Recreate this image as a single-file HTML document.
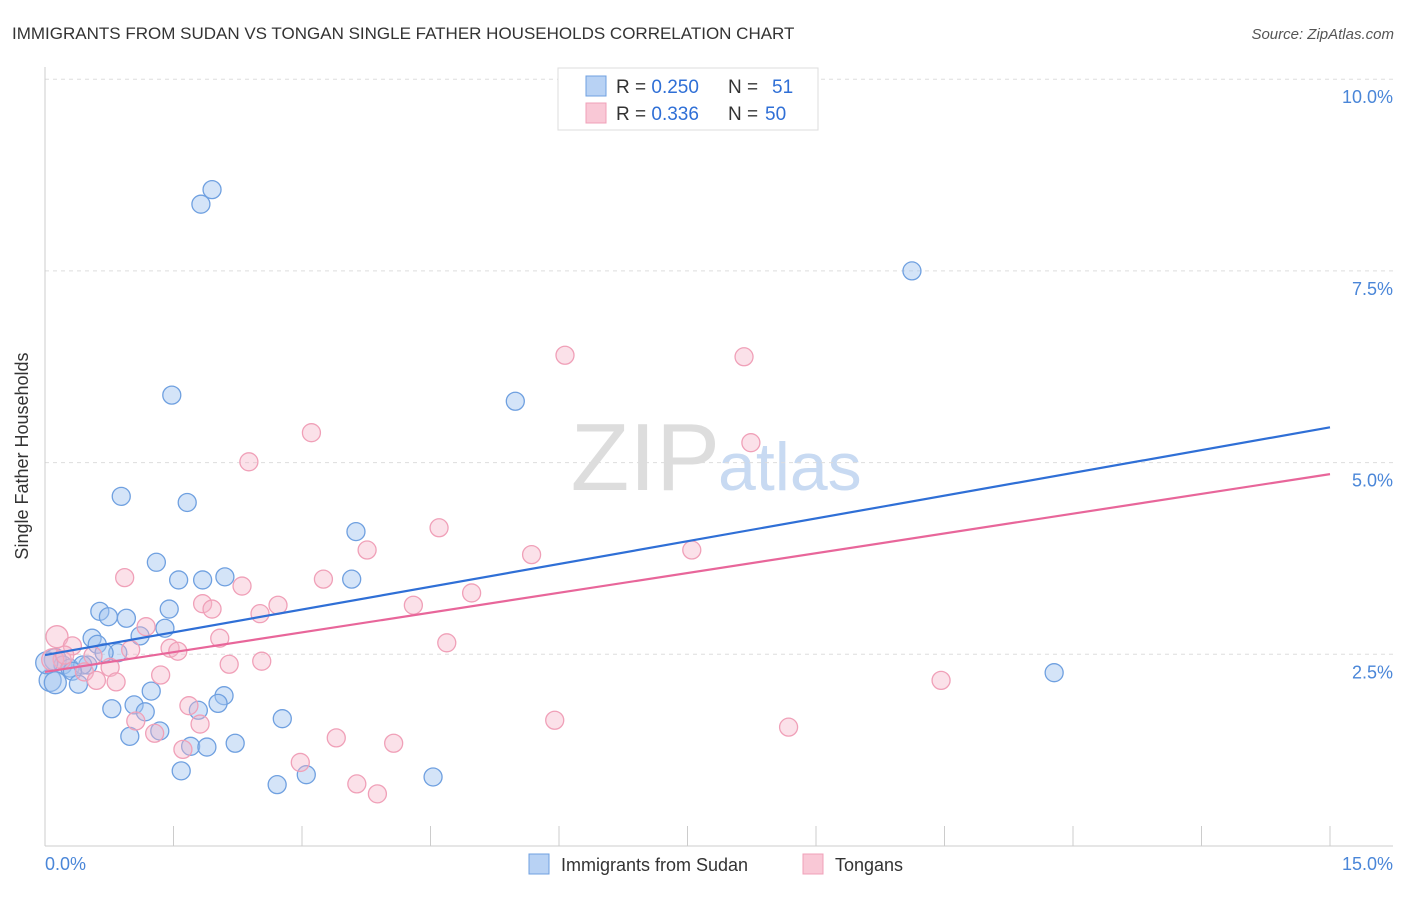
<!DOCTYPE html>
<html><head><meta charset="utf-8"><style>
body{margin:0;background:#fff;font-family:"Liberation Sans",sans-serif}
svg text{font-family:"Liberation Sans",sans-serif}
</style></head><body>
<svg id="c" width="1406" height="892" xmlns="http://www.w3.org/2000/svg">
<text x="12" y="39" font-size="17" fill="#333">IMMIGRANTS FROM SUDAN VS TONGAN SINGLE FATHER HOUSEHOLDS CORRELATION CHART</text>
<text x="1394" y="39" font-size="15" fill="#555" font-style="italic" text-anchor="end">Source: ZipAtlas.com</text>
<text x="720" y="490" font-size="96" fill="#ddd" font-family="Liberation Serif" text-anchor="end">ZIP</text>
<text x="718" y="490" font-size="68" fill="#c8daf2">atlas</text>
<g id="grid"></g>
<line x1="45" y1="67" x2="45" y2="846" stroke="#ccc"/>
<line x1="45" y1="846" x2="1393" y2="846" stroke="#ccc"/>
<text x="28" y="456" font-size="18" fill="#333" text-anchor="middle" transform="rotate(-90 28 456)">Single Father Households</text>
<text x="45" y="870" font-size="18" fill="#4a86d8">0.0%</text>
<text x="1393" y="870" font-size="18" fill="#4a86d8" text-anchor="end">15.0%</text>
<g id="pts"></g>
<g id="lines"></g>
<g>
<rect x="558" y="68" width="260" height="62" fill="#fff" stroke="#ddd"/>
<rect x="586" y="76" width="20" height="20" fill="#b8d2f4" stroke="#6fa0e0"/>
<rect x="586" y="103" width="20" height="20" fill="#f9c8d6" stroke="#f0a0b8"/>
<text x="616" y="93" font-size="19" fill="#333">R = <tspan fill="#2f6fd6">0.250</tspan><tspan x="728">N = </tspan><tspan x="772" fill="#2f6fd6">51</tspan></text>
<text x="616" y="120" font-size="19" fill="#333">R = <tspan fill="#2f6fd6">0.336</tspan><tspan x="728">N = </tspan><tspan x="765" fill="#2f6fd6">50</tspan></text>
</g>
<g>
<rect x="529" y="854" width="20" height="20" fill="#b8d2f4" stroke="#6fa0e0"/>
<text x="561" y="871" font-size="18" fill="#333">Immigrants from Sudan</text></g>
<g>
<rect x="803" y="854" width="20" height="20" fill="#f9c8d6" stroke="#f0a0b8"/>
<text x="835" y="871" font-size="18" fill="#333">Tongans</text></g>
</svg>
<script>
const yTicks=[2.5,5,7.5,10];
const yTickLabels=["2.5%","5.0%","7.5%","10.0%"];
const xTicks=[0,1.5,3,4.5,6,7.5,9,10.5,12,13.5,15];
const sudanX=[1.95,1.82,10.12,1.48,5.49,0.89,1.66,3.63,1.30,1.56,1.84,2.10,3.58,0.64,0.74,0.95,1.45,1.40,1.11,0.55,0.61,0.85,0.69,0.12,0.21,0.29,0.50,0.44,0.32,0.06,0.12,0.39,11.78,1.24,2.09,2.02,1.04,0.78,1.17,1.79,1.34,0.99,2.77,1.70,1.89,2.22,1.59,3.05,4.53,2.71,0.02];
const sudanY=[8.56,8.37,7.50,5.88,5.80,4.56,4.48,4.10,3.70,3.47,3.47,3.51,3.48,3.06,2.99,2.97,3.09,2.84,2.74,2.71,2.63,2.52,2.52,2.43,2.36,2.32,2.36,2.36,2.28,2.16,2.13,2.11,2.26,2.02,1.96,1.86,1.84,1.79,1.75,1.77,1.50,1.43,1.66,1.30,1.29,1.34,0.98,0.93,0.90,0.80,2.39];
const tonganX=[6.07,8.16,3.11,8.24,2.38,4.60,3.76,5.68,7.55,0.93,3.25,2.30,4.98,1.84,1.95,4.30,2.72,2.51,0.14,1.18,0.32,2.04,4.69,1.46,1.55,1.00,0.56,2.53,2.15,0.76,0.20,1.35,0.46,0.60,0.83,10.46,1.68,1.06,5.95,1.81,8.68,1.28,1.61,3.40,4.07,2.98,3.64,3.88,0.09,0.23];
const tonganY=[6.40,6.38,5.39,5.26,5.01,4.15,3.86,3.80,3.86,3.50,3.48,3.39,3.30,3.16,3.09,3.14,3.14,3.03,2.73,2.86,2.61,2.71,2.65,2.58,2.54,2.56,2.48,2.41,2.37,2.33,2.43,2.23,2.27,2.16,2.14,2.16,1.83,1.63,1.64,1.59,1.55,1.47,1.26,1.41,1.34,1.09,0.81,0.68,2.43,2.49];
const sudanTrend=[2.49,5.46];
const tonganTrend=[2.27,4.85];
const NS="http://www.w3.org/2000/svg";
const sx=v=>45+v/15*1285, sy=v=>846-v*76.68;
function mk(t,a,p){const e=document.createElementNS(NS,t);for(const k in a)e.setAttribute(k,a[k]);p.appendChild(e);return e;}
const grid=document.getElementById('grid');
yTicks.forEach((t,i)=>{
 const l=mk('line',{x1:45,x2:1393,y1:sy(t),y2:sy(t),stroke:'#ddd','stroke-dasharray':'4,4'},grid);
 
 
 const tx=mk('text',{x:1393,y:sy(t)+24,'font-size':18,fill:'#4a86d8','text-anchor':'end'},grid);
 tx.textContent=yTickLabels[i];
 
 
});
xTicks.forEach(t=>{
 const l=mk('line',{x1:sx(t),x2:sx(t),y1:826,y2:846,stroke:'#ccc'},grid);
 
 
});
const pts=document.getElementById('pts');
sudanX.forEach((x,i)=>{
 const c=mk('circle',{cx:sx(x),cy:sy(sudanY[i]),r:x<0.2?11:9,fill:'rgba(160,196,240,0.45)',stroke:'#6fa0e0','stroke-width':1.3},pts);
 
 
});
tonganX.forEach((x,i)=>{
 const c=mk('circle',{cx:sx(x),cy:sy(tonganY[i]),r:x<0.2?11:9,fill:'rgba(246,180,200,0.4)',stroke:'#f0a0b8','stroke-width':1.3},pts);
 
 
});
const lines=document.getElementById('lines');
const l1=mk('line',{x1:sx(0),y1:sy(sudanTrend[0]),x2:sx(15),y2:sy(sudanTrend[1]),stroke:'#2f6fd6','stroke-width':2.2},lines);


const l2=mk('line',{x1:sx(0),y1:sy(tonganTrend[0]),x2:sx(15),y2:sy(tonganTrend[1]),stroke:'#e8669a','stroke-width':2.2},lines);


</script>
</body></html>
